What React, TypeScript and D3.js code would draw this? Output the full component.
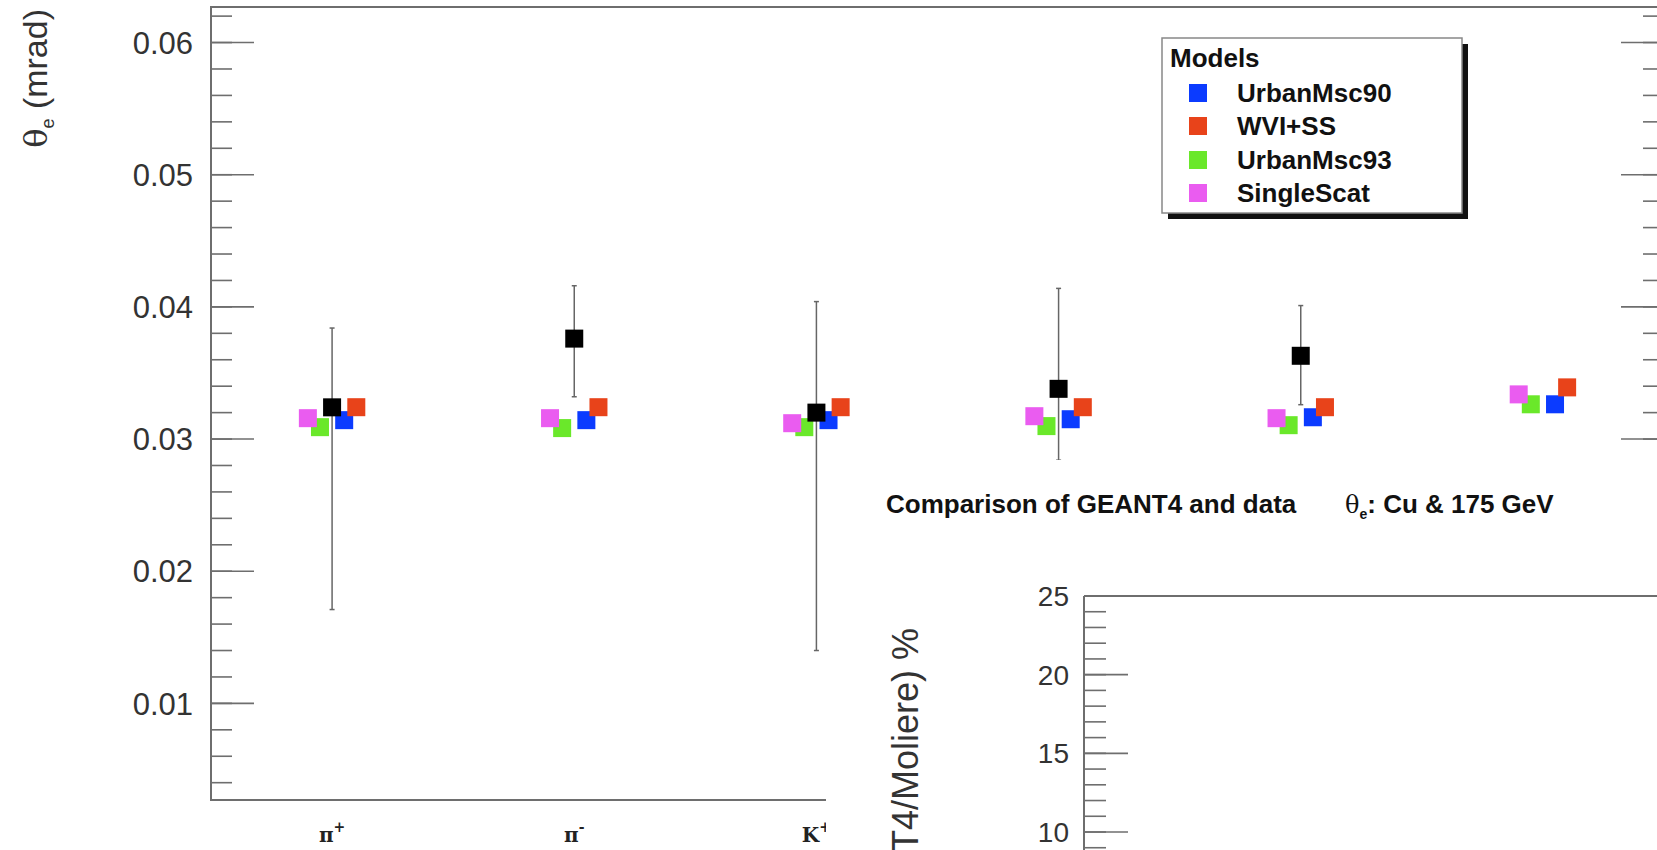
import React from 'react';
import * as d3 from 'd3';

// categories along the x axis (label + superscript charge)
const categories = ['π', 'π', 'K', 'K', 'p', 'p'];
const categorySup = ['+', '-', '+', '-', '', ''];

// measured data (black) with asymmetric errors
const dataTheta = [0.0324, 0.0376, 0.0320, 0.0338, 0.0363, null];
const dataErrHigh = [0.0060, 0.0040, 0.0084, 0.0076, 0.0038, null];
const dataErrLow = [0.0153, 0.0044, 0.0180, 0.0054, 0.0037, null];

// GEANT4 models
const modelNames = ['UrbanMsc90', 'WVI+SS', 'UrbanMsc93', 'SingleScat'];
const modelColors = ['#0b3bff', '#e8431a', '#6ae82a', '#ea5cf0'];
const urbanMsc90 = [0.03143, 0.03143, 0.03143, 0.0315, 0.03165, 0.03263];
const wviSS = [0.03241, 0.03241, 0.03241, 0.03241, 0.03241, 0.03391];
const urbanMsc93 = [0.0309, 0.03083, 0.0309, 0.03098, 0.03105, 0.03263];
const singleScat = [0.03158, 0.03158, 0.0312, 0.03173, 0.03158, 0.03338];
const modelValues = [urbanMsc90, wviSS, urbanMsc93, singleScat];

const yTicks = [0.01, 0.02, 0.03, 0.04, 0.05, 0.06];
const ratioTicks = [10, 15, 20, 25];

const W = 1657;
const H = 850;
const FONT = '"Liberation Sans", Arial, Helvetica, sans-serif';
const AXIS = '#6e6e6e';

const App = () => {
  // main pad frame
  const frame = { left: 211, right: 1664, top: 7, bottom: 800 };
  const x = d3.scaleLinear().domain([0, categories.length]).range([frame.left, frame.right]);
  const y = d3.scaleLinear().domain([0.00269, 0.06269]).range([frame.bottom, frame.top]);
  const minor = d3.range(0.004, 0.0627, 0.002);

  // horizontal offset of each model inside a bin (bin units)
  const offsets = [0.05, 0.1, -0.05, -0.1];
  const ms = 18;

  // second (overlapping) pad
  const pad2 = { left: 826, top: 460 };
  const f2 = { left: 1084, top: 596 };
  const y2 = d3.scaleLinear().domain([10, 25]).range([832, 596]);
  const minor2 = d3.range(9, 26, 1);

  // legend
  const lg = { x: 1162, y: 38, w: 300, h: 175 };
  const rowBase = [102, 135, 169, 202];

  return (
    <svg width={W} height={H} style={{ position: 'absolute', left: 0, top: 0, background: '#fff' }} fontFamily={FONT}>
      <rect x={0} y={0} width={W} height={H} fill="#fff" />

      {/* y title */}
      <text transform={`translate(47,9) rotate(-90)`} textAnchor="end" fontSize={34} fill="#333">
        <tspan fontFamily='"DejaVu Serif", serif' fontSize={32}>θ</tspan>
        <tspan fontSize={18} dy={7}>e</tspan>
        <tspan dy={-7}> (mrad)</tspan>
      </text>

      {/* minor + major ticks on left and right */}
      {minor.map((v, i) => (
        <g key={'mn' + i}>
          <line x1={frame.left} x2={frame.left + 21} y1={y(v)} y2={y(v)} stroke={AXIS} strokeWidth={1.6} />
          <line x1={frame.right - 21} x2={frame.right} y1={y(v)} y2={y(v)} stroke={AXIS} strokeWidth={1.6} />
        </g>
      ))}
      {yTicks.map((v, i) => (
        <g key={'mj' + i}>
          <line x1={frame.left} x2={frame.left + 43} y1={y(v)} y2={y(v)} stroke={AXIS} strokeWidth={1.6} />
          <line x1={frame.right - 43} x2={frame.right} y1={y(v)} y2={y(v)} stroke={AXIS} strokeWidth={1.6} />
          <text x={193} y={y(v)} dy="0.36em" textAnchor="end" fontSize={31} fill="#333">
            {d3.format('.2f')(v)}
          </text>
        </g>
      ))}

      {/* frame */}
      <rect x={frame.left} y={frame.top} width={frame.right - frame.left} height={frame.bottom - frame.top}
        fill="none" stroke={AXIS} strokeWidth={2} />

      {/* x category labels */}
      {categories.map((c, i) => (
        <text key={'xl' + i} x={x(i + 0.5)} y={842} textAnchor="middle" fontFamily='"DejaVu Serif", serif'
          fontWeight="bold" fontSize={20} fill="#222">
          {c}
          <tspan fontSize={14} dy={-10}>{categorySup[i]}</tspan>
        </text>
      ))}

      {/* error bars of data */}
      {dataTheta.map((v, i) => v == null ? null : (
        <g key={'eb' + i} stroke="#666" strokeWidth={1.5}>
          <line x1={x(i + 0.5)} x2={x(i + 0.5)} y1={y(v + dataErrHigh[i])} y2={y(v - dataErrLow[i])} />
          <line x1={x(i + 0.5) - 2.5} x2={x(i + 0.5) + 2.5} y1={y(v + dataErrHigh[i])} y2={y(v + dataErrHigh[i])} />
          <line x1={x(i + 0.5) - 2.5} x2={x(i + 0.5) + 2.5} y1={y(v - dataErrLow[i])} y2={y(v - dataErrLow[i])} />
        </g>
      ))}

      {/* model markers */}
      {modelValues.map((vals, m) => vals.map((v, i) => (
        <rect key={`m${m}-${i}`} x={x(i + 0.5 + offsets[m]) - ms / 2} y={y(v) - ms / 2} width={ms} height={ms}
          fill={modelColors[m]} />
      )))}

      {/* data markers */}
      {dataTheta.map((v, i) => v == null ? null : (
        <rect key={'d' + i} x={x(i + 0.5) - ms / 2} y={y(v) - ms / 2} width={ms} height={ms} fill="#000" />
      ))}

      {/* legend */}
      <rect x={lg.x + 6} y={lg.y + 6} width={lg.w} height={lg.h} fill="#111" />
      <rect x={lg.x} y={lg.y} width={lg.w} height={lg.h} fill="#fff" stroke="#888" strokeWidth={1.5} />
      <text x={lg.x + 8} y={67} fontSize={26} fontWeight="bold" fill="#111">Models</text>
      {modelNames.map((n, i) => (
        <g key={'lg' + i}>
          <rect x={1198 - ms / 2} y={rowBase[i] - 9 - ms / 2} width={ms} height={ms} fill={modelColors[i]} />
          <text x={1237} y={rowBase[i]} fontSize={26} fontWeight="bold" fill="#111">{n}</text>
        </g>
      ))}

      {/* second pad drawn on top */}
      <rect x={pad2.left} y={pad2.top} width={W - pad2.left} height={H - pad2.top} fill="#fff" />
      <text x={886} y={513} fontSize={26} fontWeight="bold" fill="#111">
        Comparison of GEANT4 and data
        <tspan x={1345} fontFamily='"DejaVu Serif", serif' fontWeight="normal" fontSize={24}>θ</tspan>
        <tspan fontSize={14} dy={6}>e</tspan>
        <tspan dy={-6}>: Cu &amp; 175 GeV</tspan>
      </text>

      <text transform={`translate(918,628) rotate(-90)`} textAnchor="end" fontSize={36} fill="#333">
        (GEANT4/Moliere) %
      </text>

      {minor2.map((v, i) => (
        <line key={'m2' + i} x1={f2.left} x2={f2.left + 22} y1={y2(v)} y2={y2(v)} stroke={AXIS} strokeWidth={1.6} />
      ))}
      {ratioTicks.map((v, i) => (
        <g key={'r' + i}>
          <line x1={f2.left} x2={f2.left + 44} y1={y2(v)} y2={y2(v)} stroke={AXIS} strokeWidth={1.6} />
          <text x={1069} y={y2(v)} dy="0.36em" textAnchor="end" fontSize={28} fill="#333">{v}</text>
        </g>
      ))}
      <line x1={f2.left} x2={f2.left} y1={f2.top} y2={H} stroke={AXIS} strokeWidth={2} />
      <line x1={f2.left} x2={W} y1={f2.top} y2={f2.top} stroke={AXIS} strokeWidth={2} />
    </svg>
  );
};

export default App;
